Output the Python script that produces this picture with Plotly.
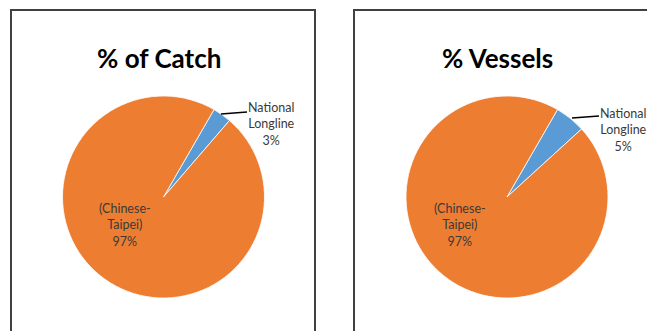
import plotly.graph_objects as go

W, H = 647, 331

# date
categorii = ["National<br>Longline", "(Chinese-<br>Taipei)"]
procent_captura = [3, 97]
procent_nave = [5, 97]
titluri = ["% of Catch", "% Vessels"]
culori = ["#5B9BD5", "#ED7D31"]


def px(x):
    return x / W


def py(y):
    return 1 - y / H


fig = go.Figure()

# centrele si raza pie-urilor (in pixeli)
centre = [(163.5, 197), (507, 197)]
raza = 101

for i, valori in enumerate([procent_captura, procent_nave]):
    cx, cy = centre[i]
    fig.add_trace(go.Pie(
        labels=categorii,
        values=valori,
        sort=False,
        direction="clockwise",
        rotation=30,
        textinfo="none",
        hoverinfo="label+percent",
        marker=dict(colors=culori, line=dict(color="white", width=0.8)),
        domain=dict(x=[px(cx - raza), px(cx + raza)],
                    y=[py(cy + raza), py(cy - raza)]),
        showlegend=False,
    ))

# chenarele
fig.add_shape(type="rect", xref="paper", yref="paper",
              x0=px(11), x1=px(315), y0=-0.1, y1=py(10),
              line=dict(color="#404040", width=2))
fig.add_shape(type="rect", xref="paper", yref="paper",
              x0=px(354), x1=1.1, y0=-0.1, y1=py(10),
              line=dict(color="#404040", width=2))

# titluri
for titlu, x in zip(titluri, [159, 497]):
    fig.add_annotation(x=px(x), y=py(58), xref="paper", yref="paper",
                       xanchor="center", yanchor="middle",
                       text="<b>" + titlu + "</b>", showarrow=False,
                       font=dict(family="Lato", size=26, color="black"))

# etichete
font_et = dict(family="Lato", size=12.5, color="#3a3a3a")
pozitii_mici = [(271, 124), (623, 130)]
pozitii_mari = [(125, 225), (460, 225)]
linii = [((221, 114), (247, 112)), ((572, 118), (599, 116))]
for i, valori in enumerate([procent_captura, procent_nave]):
    x, y = pozitii_mici[i]
    fig.add_annotation(x=px(x), y=py(y), xref="paper", yref="paper",
                       xanchor="center", yanchor="middle",
                       text=f"{categorii[0]}<br>{valori[0]}%", showarrow=False,
                       font=font_et)
    x, y = pozitii_mari[i]
    fig.add_annotation(x=px(x), y=py(y), xref="paper", yref="paper",
                       xanchor="center", yanchor="middle",
                       text=f"{categorii[1]}<br>{valori[1]}%", showarrow=False,
                       font=font_et)
    (x0, y0), (x1, y1) = linii[i]
    fig.add_shape(type="line", xref="paper", yref="paper",
                  x0=px(x0), y0=py(y0), x1=px(x1), y1=py(y1),
                  line=dict(color="black", width=1.5))

fig.update_layout(
    width=W, height=H,
    margin=dict(l=0, r=0, t=0, b=0),
    paper_bgcolor="white",
    plot_bgcolor="white",
)

fig.write_html("out.html", config={"displayModeBar": False},
               post_script="document.body.style.margin='0';")
